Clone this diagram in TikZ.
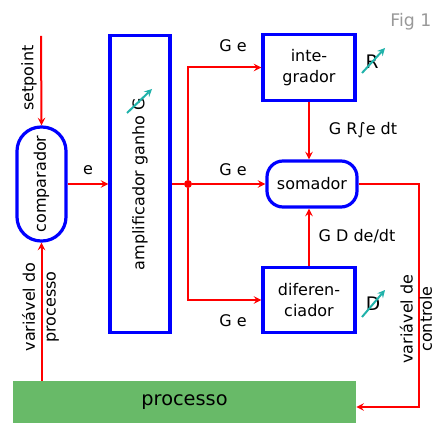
\documentclass[tikz,border=0pt]{standalone}
\usepackage{fontspec}
\setmainfont{DejaVu Sans}
\usetikzlibrary{arrows}

\definecolor{caixa}{RGB}{0,0,255}
\definecolor{ajuste}{RGB}{32,178,170}
\definecolor{verde}{RGB}{104,186,104}

\begin{document}
\begin{tikzpicture}[x=0.75pt, y=-0.75pt, >=stealth,
    every node/.style={font=\fontsize{12}{15.5}\selectfont},
    bloco/.style={draw=caixa, line width=2.4pt, minimum width=69pt,
        minimum height=49pt, align=center},
    redondo/.style={draw=caixa, line width=2.4pt},
    sinal/.style={->, red, line width=1.5pt},
    fio/.style={red, line width=1.5pt},
    ganho/.style={->, ajuste, line width=1.5pt}]
    \useasboundingbox (0,0) rectangle (434,423);
    \clip (0,0) rectangle (434,423);

    % blocks
    \node[redondo, rounded corners=18pt, rotate=90, minimum width=85.5pt,
        minimum height=36.75pt] (comp) at (41.5,184) {comparador};
    \node[redondo, rotate=90, minimum width=222.75pt, minimum height=45pt]
        (ampl) at (140,184) {amplificador ganho G};
    \node[bloco] (integ) at (309,67.5) {inte-\\grador};
    \node[redondo, rounded corners=12pt, minimum width=67.5pt,
        minimum height=34.5pt] (soma) at (312,184) {somador};
    \node[bloco] (difer) at (309,300) {diferen-\\ciador};
    \node[fill=verde, minimum width=257.25pt, minimum height=31.5pt,
        font=\fontsize{14.5}{17}\selectfont] (proc) at (184.5,402) {processo};
    \node[circle, fill=red, inner sep=0pt, minimum size=6pt] (junta) at (188,184) {};

    % signals
    \coordinate (entrada) at (41,36);
    \coordinate (retorno) at (419,407);
    \draw[sinal] (entrada) -- (comp.east);
    \draw[sinal] (comp.south) -- (ampl.north);
    \draw[fio] (ampl.south) -- (junta);
    \draw[sinal] (junta) |- (integ.west);
    \draw[sinal] (junta) -- (soma.west);
    \draw[sinal] (junta) |- (difer.west);
    \draw[sinal] (integ.south) -- (integ.south |- soma.north);
    \draw[sinal] (difer.north) -- (difer.north |- soma.south);
    \draw[sinal] (soma.east) -| (retorno) -- (retorno -| proc.east);
    \draw[sinal] (proc.north -| comp) -- (comp.west);

    % gain knobs
    \draw[ganho] (127,113) -- (152,89);
    \node[font=\fontsize{14}{16}\selectfont] (ajR) at (372,62) {R};
    \draw[ganho] (362,73) -- (385,48);
    \node[font=\fontsize{14}{16}\selectfont] (ajD) at (373,304) {D};
    \draw[ganho] (362,317) -- (385,290);

    % labels
    \node (lbe) at (88,170) {e};
    \node (lbg1) at (233,46) {G e};
    \node (lbg2) at (233,170) {G e};
    \node (lbg3) at (233,321) {G e};
    \node (lbint) at (363,130) {G R∫e dt};
    \node (lbdif) at (357,236) {G D de/dt};
    \node[rotate=90] (lbsp) at (29,78) {setpoint};
    \node[rotate=90, align=center] (lbvp) at (40.5,307) {variável do\\processo};
    \node[rotate=90, align=center, inner sep=1pt, font=\fontsize{12}{14.5}\selectfont]
        (lbvc) at (416,319) {variável de\\controle};
    \node[anchor=east, inner sep=1pt, text=gray!80, font=\fontsize{13}{15}\selectfont]
        (fig) at (433,22) {Fig 1};
\end{tikzpicture}
\end{document}
